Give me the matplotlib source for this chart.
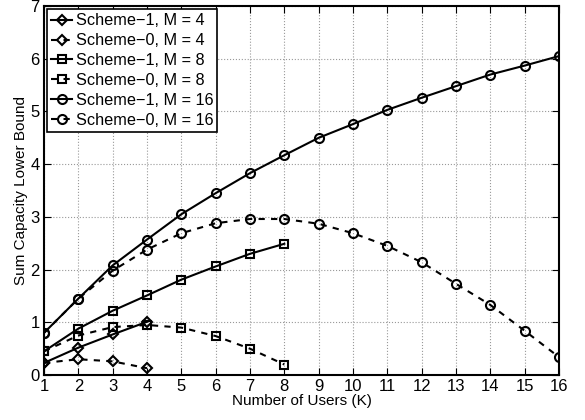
import matplotlib
matplotlib.use("Agg")
import matplotlib.pyplot as plt
import numpy as np

plt.rcParams['font.family'] = ['Liberation Sans', 'DejaVu Sans']

# Datos
k4 = [1, 2, 3, 4]
k8 = [1, 2, 3, 4, 5, 6, 7, 8]
k16 = list(range(1, 17))

s1_m4 = [0.23, 0.52, 0.77, 1.01]
s0_m4 = [0.23, 0.30, 0.26, 0.13]
s1_m8 = [0.45, 0.88, 1.22, 1.51, 1.81, 2.06, 2.30, 2.49]
s0_m8 = [0.45, 0.75, 0.91, 0.95, 0.90, 0.74, 0.50, 0.20]
s1_m16 = [0.80, 1.45, 2.08, 2.57, 3.05, 3.45, 3.83, 4.17,
          4.50, 4.76, 5.03, 5.26, 5.48, 5.70, 5.87, 6.05]
s0_m16 = [0.80, 1.45, 1.98, 2.38, 2.69, 2.88, 2.96, 2.96,
          2.87, 2.69, 2.45, 2.14, 1.73, 1.33, 0.84, 0.34]

fig = plt.figure(figsize=(5.85, 4.2), dpi=100)
ax = fig.add_axes([0.0752, 0.107, 0.8804, 0.8787])

estilo = dict(color='k', lw=1.5, mew=1.5, mfc='none')
ax.plot(k4, s1_m4, '-', marker='D', ms=5.5, label='Scheme\u22121, M = 4', **estilo)
ax.plot(k4, s0_m4, '--', marker='D', ms=5.5, dashes=(3, 3), label='Scheme\u22120, M = 4', **estilo)
ax.plot(k8, s1_m8, '-', marker='s', ms=5.5, label='Scheme\u22121, M = 8', **estilo)
ax.plot(k8, s0_m8, '--', marker='s', ms=5.5, dashes=(3, 3), label='Scheme\u22120, M = 8', **estilo)
ax.plot(k16, s1_m16, '-', marker='o', ms=6.5, label='Scheme\u22121, M = 16', **estilo)
ax.plot(k16, s0_m16, '--', marker='o', ms=6.5, dashes=(3, 3), label='Scheme\u22120, M = 16', **estilo)

ax.set_xlim(1, 16)
ax.set_ylim(0, 7)
ax.set_xticks(k16)
ax.set_yticks(range(0, 8))
ax.tick_params(direction='in', labelsize=12, top=True, right=True, length=5, pad=3)
ax.grid(True, linestyle=':', color='#999999', lw=0.8)
for s in ax.spines.values():
    s.set_linewidth(1.5)

ax.set_xlabel('Number of Users (K)', fontsize=11, labelpad=0)
ax.set_ylabel('Sum Capacity Lower Bound', fontsize=11, labelpad=2)

leg = ax.legend(loc='upper left', fontsize=11.7, fancybox=False, framealpha=1,
                edgecolor='k', handlelength=1.3, handletextpad=0.2,
                borderaxespad=0.2, labelspacing=0.3, borderpad=0.25)
leg.get_frame().set_linewidth(1.2)

fig.savefig('out.png', dpi=100)
